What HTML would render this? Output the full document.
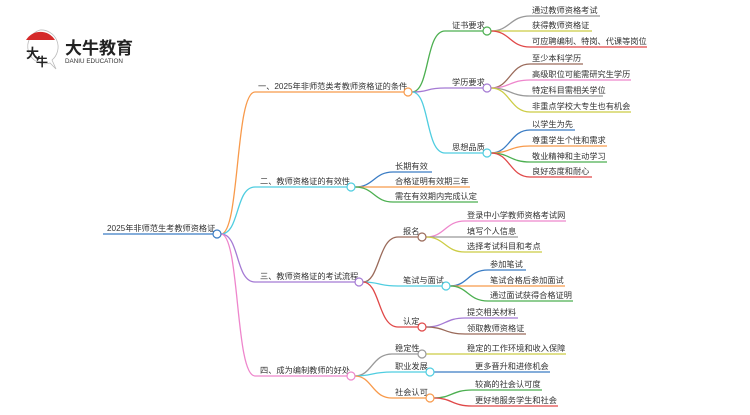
<!DOCTYPE html>
<html><head><meta charset="utf-8"><style>
body{margin:0;background:#fff;}
svg text{font-family:"Liberation Sans","Noto Sans CJK SC",sans-serif;font-size:8.2px;fill:#333;}
</style></head><body>
<svg width="750" height="410" viewBox="0 0 750 410" xmlns="http://www.w3.org/2000/svg" fill="none" stroke-width="1.3">
<!-- logo -->
<g>
<path d="M40 30 A17 17 0 1 0 50 63 L56 69 L52 60 A17 17 0 0 0 40 30Z" stroke="#bbb" stroke-width="0.8" fill="#fff"/>
<path d="M26 40 A17 17 0 0 1 55 40 Z" fill="#d42a2a" stroke="none"/>
<text x="26" y="58" style="font-size:13px;fill:#222;font-weight:bold">大</text>
<text x="36" y="66" style="font-size:12px;fill:#222;font-weight:bold">牛</text>
<text x="65" y="54" style="font-size:17px;fill:#222;font-weight:bold">大牛教育</text>
<text x="65" y="63" style="font-size:6.3px;fill:#333">DANIU EDUCATION</text>
</g>
<!-- root -->
<text x="107" y="231">2025年非师范生考教师资格证</text>
<path d="M103 234 H213" stroke="#3a7cc4"/>
<path d="M221 234 C240 234,235 92,255 92 H404" stroke="#f89a4b"/>
<path d="M221 234 C240 234,235 187,255 187 H347" stroke="#4fcde0"/>
<path d="M221 234 C240 234,235 282,255 282 H355" stroke="#a57ad4"/>
<path d="M221 234 C240 234,235 376,255 376 H347" stroke="#ee86cc"/>
<text x="258" y="89">一、2025年非师范类考教师资格证的条件</text>
<text x="260" y="184">二、教师资格证的有效性</text>
<text x="260" y="279">三、教师资格证的考试流程</text>
<text x="260" y="373">四、成为编制教师的好处</text>

<path d="M412 92 C430 92,425 31,445 31 H483" stroke="#4caf50"/>
<path d="M412 92 C430 92,425 88,445 88 H483" stroke="#a57ad4"/>
<path d="M412 92 C430 92,425 153,445 153 H483" stroke="#4fcde0"/>
<text x="452" y="28">证书要求</text>
<text x="452" y="85">学历要求</text>
<text x="452" y="150">思想品质</text>
<path d="M491 31 C510 31,510 16,530 16 H600" stroke="#999"/>
<path d="M491 31 H592" stroke="#cccc44"/>
<path d="M491 31 C510 31,510 47,530 47 H647" stroke="#e04848"/>
<text x="532" y="13">通过教师资格考试</text>
<text x="532" y="28">获得教师资格证</text>
<text x="532" y="44">可应聘编制、特岗、代课等岗位</text>
<path d="M491 88 C510 88,510 64,530 64 H583" stroke="#9a6a5a"/>
<path d="M491 88 C510 88,510 80,530 80 H631" stroke="#ee86cc"/>
<path d="M491 88 C510 88,510 96,530 96 H603" stroke="#999"/>
<path d="M491 88 C510 88,510 112,530 112 H631" stroke="#cccc44"/>
<text x="532" y="61">至少本科学历</text>
<text x="532" y="77">高级职位可能需研究生学历</text>
<text x="532" y="93">特定科目需相关学位</text>
<text x="532" y="109">非重点学校大专生也有机会</text>
<path d="M491 153 C510 153,510 130,530 130 H575" stroke="#3a7cc4"/>
<path d="M491 153 C510 153,510 146,530 146 H607" stroke="#f89a4b"/>
<path d="M491 153 C510 153,510 162,530 162 H607" stroke="#4caf50"/>
<path d="M491 153 C510 153,510 177,530 177 H592" stroke="#e04848"/>
<text x="532" y="127">以学生为先</text>
<text x="532" y="143">尊重学生个性和需求</text>
<text x="532" y="159">敬业精神和主动学习</text>
<text x="532" y="174">良好态度和耐心</text>

<path d="M355 187 C374 187,374 172,393 172 H432" stroke="#3a7cc4"/>
<path d="M355 187 H470" stroke="#f89a4b"/>
<path d="M355 187 C374 187,374 202,393 202 H478" stroke="#4caf50"/>
<text x="395" y="169">长期有效</text>
<text x="395" y="184">合格证明有效期三年</text>
<text x="395" y="199">需在有效期内完成认定</text>

<path d="M363 282 C380 282,378 237,398 237 H418" stroke="#9a6a5a"/>
<path d="M363 282 C380 282,378 286,398 286 H442" stroke="#4fcde0"/>
<path d="M363 282 C380 282,378 327,398 327 H418" stroke="#e04848"/>
<text x="403" y="234">报名</text>
<text x="403" y="283">笔试与面试</text>
<text x="403" y="324">认定</text>
<path d="M426 237 C445 237,445 221,465 221 H566" stroke="#ee86cc"/>
<path d="M426 237 H518" stroke="#999"/>
<path d="M426 237 C445 237,445 252,465 252 H542" stroke="#cccc44"/>
<text x="467" y="218">登录中小学教师资格考试网</text>
<text x="467" y="234">填写个人信息</text>
<text x="467" y="249">选择考试科目和考点</text>
<path d="M450 286 C468 286,468 270,488 270 H526" stroke="#3a7cc4"/>
<path d="M450 286 H565" stroke="#f89a4b"/>
<path d="M450 286 C468 286,468 301,488 301 H573" stroke="#4caf50"/>
<text x="490" y="267">参加笔试</text>
<text x="490" y="283">笔试合格后参加面试</text>
<text x="490" y="298">通过面试获得合格证明</text>
<path d="M426 327 C445 327,445 318,465 318 H518" stroke="#a57ad4"/>
<path d="M426 327 C445 327,445 334,465 334 H526" stroke="#9a6a5a"/>
<text x="467" y="315">提交相关材料</text>
<text x="467" y="331">领取教师资格证</text>

<path d="M355 376 C372 376,372 354,392 354 H418" stroke="#999"/>
<path d="M355 376 C372 376,372 372,392 372 H426" stroke="#4fcde0"/>
<path d="M355 376 C372 376,372 398,392 398 H426" stroke="#f89a4b"/>
<text x="395" y="351">稳定性</text>
<text x="395" y="369">职业发展</text>
<text x="395" y="395">社会认可</text>
<path d="M426 354 H566" stroke="#cccc44"/>
<text x="467" y="351">稳定的工作环境和收入保障</text>
<path d="M434 372 H550" stroke="#3a7cc4"/>
<text x="475" y="369">更多晋升和进修机会</text>
<path d="M434 398 C452 398,452 390,472 390 H542" stroke="#4caf50"/>
<path d="M434 398 C452 398,452 406,472 406 H558" stroke="#e04848"/>
<text x="475" y="387">较高的社会认可度</text>
<text x="475" y="403">更好地服务学生和社会</text>

<g fill="#fff" stroke-width="1.2">
<circle cx="217" cy="234" r="4" stroke="#3a7cc4"/>
<circle cx="408" cy="92" r="4" stroke="#f89a4b"/>
<circle cx="351" cy="187" r="4" stroke="#4fcde0"/>
<circle cx="359" cy="282" r="4" stroke="#a57ad4"/>
<circle cx="351" cy="376" r="4" stroke="#ee86cc"/>
<circle cx="487" cy="31" r="4" stroke="#4caf50"/>
<circle cx="487" cy="88" r="4" stroke="#a57ad4"/>
<circle cx="487" cy="153" r="4" stroke="#4fcde0"/>
<circle cx="422" cy="237" r="4" stroke="#9a6a5a"/>
<circle cx="446" cy="286" r="4" stroke="#4fcde0"/>
<circle cx="422" cy="327" r="4" stroke="#e04848"/>
<circle cx="422" cy="354" r="4" stroke="#999"/>
<circle cx="430" cy="372" r="4" stroke="#4fcde0"/>
<circle cx="430" cy="398" r="4" stroke="#f89a4b"/>
</g>
</svg>
</body></html>
